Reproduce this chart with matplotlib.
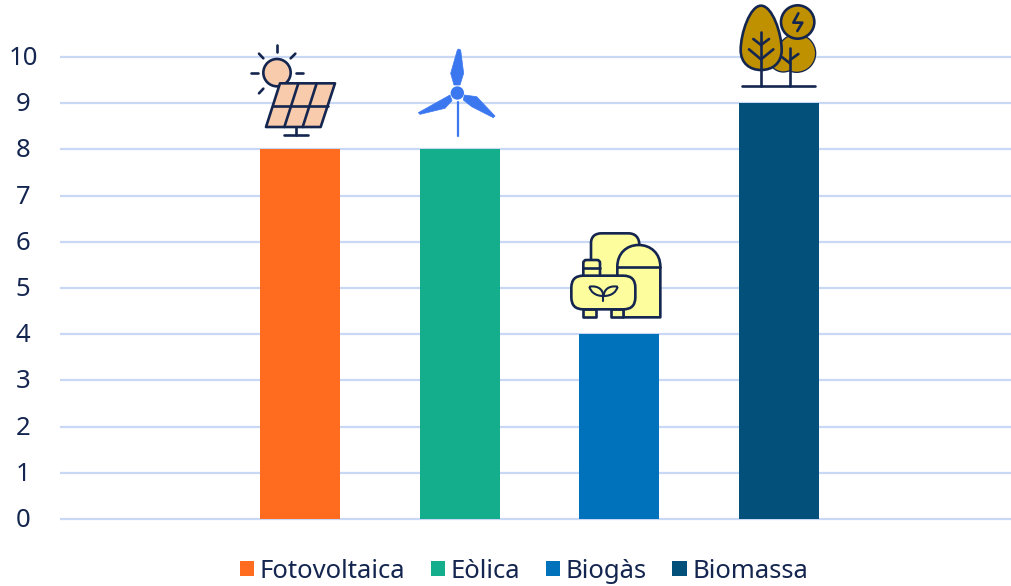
import matplotlib
matplotlib.use('Agg')
import matplotlib.pyplot as plt
from matplotlib.patches import Circle, FancyBboxPatch, PathPatch, Polygon
from matplotlib.path import Path
from matplotlib.transforms import ScaledTranslation

categories = ['Fotovoltaica', 'Eòlica', 'Biogàs', 'Biomassa']
positions = [1, 2, 3, 4]
values = [8, 8, 4, 9]
colors = ['#FF6B1F', '#14AE8C', '#0072BC', '#03507A']
yticks = list(range(0, 11))

INK = '#14264F'
LW = 1.9
W, H = 1012, 586

plt.rcParams['font.family'] = ['Noto Sans', 'DejaVu Sans']

fig = plt.figure(figsize=(W / 100, H / 100), dpi=100)
ax = fig.add_axes([60 / W, 1 - 519 / H, (W - 60) / W, (519 - 57) / H])
ax.set_xlim(-0.505, 5.463)
ax.set_ylim(0, 10)
ax.set_yticks(yticks)
ax.set_xticks([])
ax.tick_params(axis='y', length=0, pad=26.5, labelsize=18.5, labelcolor=INK)
shift = ScaledTranslation(0, 1.5 / 100, fig.dpi_scale_trans)
for lab in ax.get_yticklabels():
    lab.set_ha('center')
    lab.set_transform(lab.get_transform() + shift)
for s in ax.spines.values():
    s.set_visible(False)
ax.grid(axis='y', color='#C9D8F5', lw=1.6, clip_on=False)
ax.set_axisbelow(True)
for gl in ax.get_ygridlines():
    gl.set_clip_on(False)
    gl.set_solid_capstyle('butt')

bars = ax.bar(positions, values, width=0.502, color=colors, zorder=3)

leg = ax.legend(bars.patches, categories, loc='center', bbox_to_anchor=(524 / W, 1 - 571 / H),
                bbox_transform=fig.transFigure, ncol=4, frameon=False, fontsize=18.5,
                labelcolor=INK, handlelength=0.55, handleheight=0.55, handletextpad=0.23,
                columnspacing=0.99, borderpad=0, borderaxespad=0)

# icons are drawn on an overlay in pixel coordinates
ic = fig.add_axes([0, 0, 1, 1], zorder=5)
ic.set_xlim(0, W)
ic.set_ylim(H, 0)
ic.axis('off')
ic.patch.set_alpha(0)


def conv(pts, ox, oy):
    return [(ox + x / 3, oy + y / 3) for x, y in pts]


def line(pts, ox, oy, c=INK, lw=LW):
    p = conv(pts, ox, oy)
    ic.plot([a[0] for a in p], [a[1] for a in p], color=c, lw=lw, solid_capstyle='round', solid_joinstyle='round')


def poly(pts, ox, oy, fc, ec=INK, lw=LW):
    ic.add_patch(Polygon(conv(pts, ox, oy), closed=True, fc=fc, ec=ec, lw=lw, joinstyle='round'))


def curve(verts, codes, ox, oy, fc, ec=INK, lw=LW):
    ic.add_patch(PathPatch(Path(conv(verts, ox, oy), codes), fc=fc, ec=ec, lw=lw, joinstyle='round'))


# solar panel
ox, oy = 230, 30
peach = '#F8CBAD'
ic.add_patch(Circle((ox + 141 / 3, oy + 128 / 3), 41 / 3, fc=peach, ec=INK, lw=LW))
for seg in [[(141, 46), (141, 66)], [(64, 130), (83, 130)], [(199, 130), (218, 130)],
            [(87, 71), (100, 85)], [(196, 71), (182, 85)], [(87, 190), (100, 176)]]:
    line(seg, ox, oy)
poly([(150, 160), (315, 160), (272, 291), (108, 291)], ox, oy, peach)
for seg in [[(130, 227), (295, 227)], [(205, 160), (163, 291)], [(260, 160), (218, 291)],
            [(198, 291), (198, 315)], [(162, 315), (235, 315)]]:
    line(seg, ox, oy)

# wind turbine
blue = '#3B78F0'
line([(683, 215), (683, 318)], ox, oy, c=blue, lw=1.6)
ic.add_patch(Circle((ox + 682 / 3, oy + 189 / 3), 20 / 3, fc=blue, ec='none'))
poly([(686, 57), (692, 60), (701, 130), (690, 165), (672, 165), (662, 130), (682, 60)], ox, oy, blue, ec=blue, lw=0.5)
poly([(565, 248), (660, 195), (666, 212), (645, 235), (570, 253)], ox, oy, blue, ec=blue, lw=0.5)
poly([(703, 195), (740, 200), (795, 258), (790, 263), (725, 230), (700, 210)], ox, oy, blue, ec=blue, lw=0.5)

# biogas plant
ox, oy = 560, 220
yellow = '#FDFD9E'
M, L, C4, Z = Path.MOVETO, Path.LINETO, Path.CURVE4, Path.CLOSEPOLY
curve([(93, 175), (93, 70), (93, 50), (105, 40), (125, 40), (205, 40), (225, 40), (238, 52), (238, 75), (238, 175), (93, 175)],
      [M, L, C4, C4, C4, L, C4, C4, C4, L, Z], ox, oy, yellow)
curve([(172, 180), (172, 140), (172, 100), (200, 75), (236, 75), (272, 75), (301, 100), (301, 140), (301, 292), (190, 292), (190, 180), (172, 180)],
      [M, L, C4, C4, C4, C4, C4, C4, L, L, L, Z], ox, oy, yellow)
line([(172, 140), (301, 140)], ox, oy)
poly([(70, 268), (108, 268), (108, 290), (70, 290)], ox, oy, yellow)
poly([(152, 268), (190, 268), (190, 290), (152, 290)], ox, oy, yellow)
ic.add_patch(FancyBboxPatch((ox + 70 / 3, oy + 120 / 3), 50 / 3, 55 / 3, boxstyle='round,pad=0,rounding_size=3', fc=yellow, ec=INK, lw=LW))
line([(70, 143), (120, 143)], ox, oy)
ic.add_patch(FancyBboxPatch((ox + 34 / 3, oy + 167 / 3), 192 / 3, 101 / 3, boxstyle='round,pad=0,rounding_size=12', fc=yellow, ec=INK, lw=LW))
curve([(88, 200), (120, 195), (130, 215), (130, 228), (105, 228), (92, 215), (88, 200)],
      [M, C4, C4, C4, C4, C4, C4], ox, oy, 'none', lw=1.5)
curve([(173, 200), (141, 195), (131, 215), (131, 228), (156, 228), (169, 215), (173, 200)],
      [M, C4, C4, C4, C4, C4, C4], ox, oy, 'none', lw=1.5)
line([(130, 222), (130, 244)], ox, oy, lw=1.5)

# biomass trees
ox, oy = 725, 0
gold = '#BF9000'
blob = [((215, 160), 55), ((175, 172), 42)]
for (cx, cy), r in blob:
    ic.add_patch(Circle((ox + cx / 3, oy + cy / 3), r / 3, fc=gold, ec=INK, lw=LW))
for (cx, cy), r in blob:
    ic.add_patch(Circle((ox + cx / 3, oy + cy / 3), r / 3, fc=gold, ec='none'))
ic.add_patch(Circle((ox + 218 / 3, oy + 66 / 3), 50 / 3, fc=gold, ec=INK, lw=LW))
curve([(108, 17), (75, 17), (47, 100), (47, 150), (47, 190), (75, 210), (108, 210), (142, 210), (170, 190), (170, 150), (170, 100), (142, 17), (108, 17)],
      [M, C4, C4, C4, C4, C4, C4, C4, C4, C4, C4, C4, C4], ox, oy, gold)
for seg in [[(50, 259), (270, 259)], [(108, 97), (108, 259)], [(108, 135), (85, 117)], [(108, 135), (132, 117)],
            [(108, 178), (72, 148)], [(108, 178), (145, 148)], [(195, 143), (195, 259)],
            [(195, 180), (220, 162)], [(195, 190), (172, 172)],
            [(220, 40), (205, 68), (232, 68), (217, 93)]]:
    line(seg, ox, oy)

fig.savefig('out.png', dpi=100)
